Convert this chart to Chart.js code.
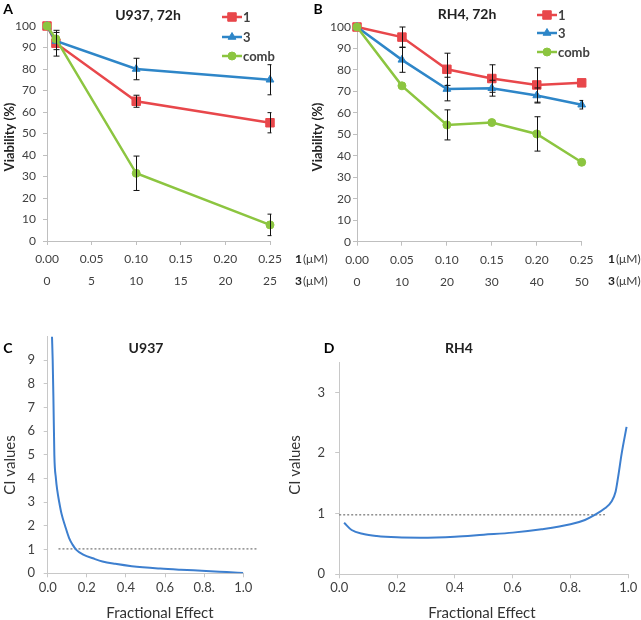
<!DOCTYPE html>
<html><head><meta charset="utf-8">
<script src="https://cdn.jsdelivr.net/npm/chart.js@4/dist/chart.umd.min.js"></script>
<style>
body{margin:0;background:#fff;width:641px;height:620px;position:relative;overflow:hidden}
canvas{position:absolute;display:block}
</style></head><body>
<canvas id="cA" width="335" height="300" style="left:0;top:0"></canvas>
<canvas id="cB" width="341" height="300" style="left:300px;top:0"></canvas>
<canvas id="cC" width="320" height="300" style="left:0;top:320px"></canvas>
<canvas id="cD" width="361" height="300" style="left:280px;top:320px"></canvas>
<script>
// ---------- DATA ----------
const seriesLabels = ['1', '3', 'comb'];
// Panel A: U937, 72h
const doseA = [0, 0.01, 0.10, 0.25];
const a1 = [100, 92, 65, 55];
const a1Err = [0, 6, 2.8, 4.7];
const a3 = [100, 93, 80, 75];
const a3Err = [0, 4, 5, 7];
const aComb = [100, 94, 31.5, 7.5];
const aCombErr = [0, 0, 8, 5];
const xTicksA = ['0.00', '0.05', '0.10', '0.15', '0.20', '0.25'];
const x2TicksA = ['0', '5', '10', '15', '20', '25'];
// Panel B: RH4, 72h
const doseB = [0, 0.05, 0.10, 0.15, 0.20, 0.25];
const b1 = [100, 95.3, 80.3, 76, 73, 74];
const b1Err = [0, 4.7, 7.5, 6.4, 8, 0];
const b3 = [100, 84.7, 71.1, 71.5, 68.1, 63.8];
const b3Err = [0, 5.8, 5.5, 3.7, 3.5, 2];
const bComb = [100, 72.6, 54.4, 55.5, 50.2, 37];
const bCombErr = [0, 0, 7, 0, 8, 0];
const xTicksB = ['0.00', '0.05', '0.10', '0.15', '0.20', '0.25'];
const x2TicksB = ['0', '10', '20', '30', '40', '50'];
// Panel C: U937 CI
const faC = [0.022, 0.0255, 0.029, 0.034, 0.042, 0.049, 0.059, 0.071, 0.089, 0.109, 0.128, 0.145, 0.179, 0.242, 0.28, 0.345, 0.43, 0.575, 0.68, 0.81, 0.915, 1.0];
const ciC = [10, 9, 7.5, 5, 4, 3.5, 3, 2.5, 2, 1.5, 1.2, 1.0, 0.8, 0.6, 0.5, 0.4, 0.3, 0.2, 0.15, 0.1, 0.05, 0.01];
const refCx = [0.055, 1.077];
const refCy = [1.03, 1.03];
// Panel D: RH4 CI
const faD = [0.017, 0.043, 0.084, 0.13, 0.2, 0.28, 0.4, 0.5, 0.6, 0.7, 0.8, 0.85, 0.884, 0.919, 0.942, 0.956, 0.965, 0.977, 0.994];
const ciD = [0.85, 0.73, 0.665, 0.632, 0.61, 0.604, 0.62, 0.654, 0.687, 0.742, 0.824, 0.896, 0.978, 1.088, 1.2, 1.36, 1.61, 1.99, 2.43];
const refDx = [0.0, 0.919];
const refDy = [0.98, 0.98];
const xTicksCD = ['0.0', '0.2', '0.4', '0.6', '0.8.', '1.0'];

// ---------- STYLE ----------
const F = 'Lato';
Chart.defaults.font.family = F;
const RED = '#e8474b', BLUE = '#2e86c8', GREEN = '#8cc540', CURVE = '#3d7fcf';
const AX = '#bfbfbf', TXT = '#404040';

const pts = (xs, ys) => xs.map((x, i) => ({x: x, y: ys[i]}));

// ---------- PLUGINS ----------
const textPlugin = {
  id: 'texts',
  afterDraw(chart, args, opts) {
    const ctx = chart.ctx;
    (opts.items || []).forEach(it => {
      ctx.save();
      ctx.font = it.font; ctx.fillStyle = it.color || '#222';
      ctx.textAlign = it.align || 'center'; ctx.textBaseline = 'middle';
      ctx.translate(it.x - opts.ox, it.y - opts.oy);
      if (it.rot) ctx.rotate(it.rot);
      ctx.fillText(it.text, 0, 0);
      ctx.restore();
    });
  }
};
function marker(ctx, style, x, y, r, color) {
  ctx.save();
  ctx.fillStyle = color; ctx.strokeStyle = color; ctx.lineWidth = 1;
  ctx.beginPath();
  if (style === 'rect') { const s = r * Math.SQRT1_2; ctx.rect(x - s, y - s, 2 * s, 2 * s); }
  else if (style === 'triangle') { ctx.moveTo(x, y - r); ctx.lineTo(x + r * 0.866, y + r * 0.5); ctx.lineTo(x - r * 0.866, y + r * 0.5); ctx.closePath(); }
  else { ctx.arc(x, y, r, 0, Math.PI * 2); }
  ctx.fill(); ctx.stroke();
  ctx.restore();
}
const legendPlugin = {
  id: 'miniLegend',
  afterDraw(chart, args, opts) {
    if (!opts.rows) return;
    const ctx = chart.ctx;
    chart.data.datasets.forEach((ds, i) => {
      const y = opts.rows[i] - opts.oy;
      const x0 = opts.x0 - opts.ox, x1 = opts.x1 - opts.ox;
      ctx.save();
      ctx.strokeStyle = ds.borderColor; ctx.lineWidth = ds.borderWidth;
      ctx.beginPath(); ctx.moveTo(x0, y); ctx.lineTo(x1, y); ctx.stroke();
      marker(ctx, ds.pointStyle, (x0 + x1) / 2, y, ds.pointRadius, ds.borderColor);
      ctx.font = 'bold 13px ' + F; ctx.fillStyle = TXT; ctx.textAlign = 'left'; ctx.textBaseline = 'middle';
      ctx.fillText(ds.label, x1 + 1, y + 1);
      ctx.restore();
    });
  }
};
const errPlugin = {
  id: 'errbars',
  afterDatasetsDraw(chart) {
    const ctx = chart.ctx, xs = chart.scales.x, ys = chart.scales.y, ca = chart.chartArea;
    ctx.save();
    ctx.beginPath(); ctx.rect(ca.left - 10, 0, ca.right - ca.left + 11.5, chart.height); ctx.clip();
    ctx.strokeStyle = '#111'; ctx.lineWidth = 1;
    chart.data.datasets.forEach(ds => {
      if (!ds.errors) return;
      ds.data.forEach((p, i) => {
        const e = ds.errors[i];
        if (!e) return;
        const x = Math.round(xs.getPixelForValue(p.x)) + 0.5;
        const yt = ys.getPixelForValue(p.y + e), yb = ys.getPixelForValue(p.y - e);
        ctx.beginPath();
        ctx.moveTo(x, yt); ctx.lineTo(x, yb);
        ctx.moveTo(x - 3, yt); ctx.lineTo(x + 3, yt);
        ctx.moveTo(x - 3, yb); ctx.lineTo(x + 3, yb);
        ctx.stroke();
      });
    });
    ctx.restore();
  }
};

function dsLine(label, xs, ys, errs, color, style, r, order) {
  return {label: label, data: pts(xs, ys), errors: errs, borderColor: color, backgroundColor: color,
    borderWidth: 2.5, pointStyle: style, pointRadius: r, pointHoverRadius: r, pointBorderWidth: 1,
    tension: 0, clip: false, order: order};
}

function viabilityChart(id, doses, s1, e1, s3, e3, sc, ec, xT, x2T, x2max, lay) {
  return new Chart(document.getElementById(id), {
    type: 'line',
    data: {datasets: [
      dsLine(seriesLabels[0], doses, s1, e1, RED, 'rect', 6, 2),
      dsLine(seriesLabels[1], doses, s3, e3, BLUE, 'triangle', 4.5, 1),
      dsLine(seriesLabels[2], doses, sc, ec, GREEN, 'circle', 4, 0)
    ]},
    options: {
      responsive: false, animation: false, devicePixelRatio: 1,
      layout: {padding: lay.padding},
      plugins: {legend: {display: false}, tooltip: {enabled: false},
        texts: lay.texts, miniLegend: lay.legend},
      scales: {
        x: {type: 'linear', min: 0, max: 0.25, position: 'bottom', weight: 0,
          afterBuildTicks: s => { s.ticks = s.ticks.filter((t, i) => i < xT.length); },
          ticks: {stepSize: 0.05, padding: 7, color: TXT, font: {size: 12}, autoSkip: false, maxRotation: 0,
            callback: (v, i) => xT[i]},
          grid: {drawOnChartArea: false, drawTicks: true, tickLength: 4, color: AX},
          border: {display: true, color: AX, width: 1},
          afterFit: s => { s.height = 25; }},
        x2: {type: 'linear', min: 0, max: x2max, position: 'bottom', weight: 1,
          ticks: {stepSize: x2max / 5, padding: 8, color: TXT, font: {size: 12}, autoSkip: false, maxRotation: 0,
            callback: (v, i) => x2T[i]},
          grid: {display: false, drawTicks: false},
          border: {display: false},
          afterFit: s => { s.height = 22; }},
        y: {type: 'linear', min: 0, max: 100,
          ticks: {stepSize: 10, padding: lay.yPad, color: TXT, font: {size: 12}},
          grid: {drawOnChartArea: false, drawTicks: true, tickLength: 4, color: AX},
          border: {display: true, color: AX, width: 1},
          afterFit: s => { s.width = lay.yW; }}
      }
    },
    plugins: [errPlugin, legendPlugin, textPlugin]
  });
}

function ciChart(id, fa, ci, rx, ry, ymax, lay) {
  return new Chart(document.getElementById(id), {
    type: 'line',
    data: {datasets: [
      {label: 'CI', data: pts(fa, ci), borderColor: CURVE, borderWidth: 2, pointRadius: 0,
        cubicInterpolationMode: 'monotone', clip: lay.clipCurve},
      {label: 'ref', data: pts(rx, ry), borderColor: '#555', borderWidth: 1, borderDash: [2, 2],
        pointRadius: 0, clip: false}
    ]},
    options: {
      responsive: false, animation: false, devicePixelRatio: 1,
      layout: {padding: lay.padding},
      plugins: {legend: {display: false}, tooltip: {enabled: false}, texts: lay.texts},
      scales: {
        x: {type: 'linear', min: 0, max: 1,
          ticks: {stepSize: 0.2, padding: lay.xPad, color: TXT, font: {size: 13}, autoSkip: false, maxRotation: 0,
            callback: (v, i) => xTicksCD[i]},
          grid: {drawOnChartArea: false, drawTicks: true, tickLength: 4, color: '#c8c8c8'},
          border: {display: true, color: '#c8c8c8', width: 1},
          afterFit: s => { s.height = 25; }},
        y: {type: 'linear', min: 0, max: ymax,
          afterBuildTicks: s => { s.ticks = s.ticks.filter(t => Number.isInteger(t.value) && t.value < ymax); },
          ticks: {stepSize: 1, padding: lay.yPad, color: TXT, font: {size: 13}},
          grid: {drawOnChartArea: false, drawTicks: true, tickLength: 4, color: '#c8c8c8'},
          border: {display: true, color: '#c8c8c8', width: 1},
          afterFit: s => { s.width = lay.yW; }}
      }
    },
    plugins: [textPlugin]
  });
}

const B14 = 'bold 14px ' + F, B13 = 'bold 13px ' + F, B12 = 'bold 12px ' + F, N12 = '12px ' + F, N15 = '15px ' + F;
const ROT = -Math.PI / 2;

viabilityChart('cA', doseA, a1, a1Err, a3, a3Err, aComb, aCombErr, xTicksA, x2TicksA, 25, {
  padding: {left: 0, right: 65, top: 26, bottom: 12}, yW: 47, yPad: 7,
  legend: {ox: 0, oy: 0, x0: 222, x1: 242, rows: [17, 37, 56]},
  texts: {ox: 0, oy: 0, items: [
    {text: 'A', x: 8, y: 9, font: B14, color: '#000'},
    {text: 'U937, 72h', x: 148, y: 15, font: B14, color: '#222'},
    {text: 'Viability (%)', x: 10, y: 137, font: B13, color: '#222', rot: ROT},
    {text: '1', x: 295, y: 259, font: B12, color: '#222', align: 'left'},
    {text: '(μM)', x: 303, y: 259, font: N12, color: TXT, align: 'left'},
    {text: '3', x: 295, y: 281, font: B12, color: '#222', align: 'left'},
    {text: '(μM)', x: 303, y: 281, font: N12, color: TXT, align: 'left'}
  ]}
});
viabilityChart('cB', doseB, b1, b1Err, b3, b3Err, bComb, bCombErr, xTicksB, x2TicksB, 50, {
  padding: {left: 0, right: 59.3, top: 27, bottom: 11.3}, yW: 57, yPad: 2,
  legend: {ox: 300, oy: 0, x0: 537, x1: 557, rows: [15, 33, 52]},
  texts: {ox: 300, oy: 0, items: [
    {text: 'B', x: 318, y: 9, font: B14, color: '#000'},
    {text: 'RH4, 72h', x: 467, y: 14, font: B14, color: '#222'},
    {text: 'Viability (%)', x: 318, y: 137, font: B13, color: '#222', rot: ROT},
    {text: '1', x: 608, y: 259, font: B12, color: '#222', align: 'left'},
    {text: '(μM)', x: 616, y: 259, font: N12, color: TXT, align: 'left'},
    {text: '3', x: 608, y: 281, font: B12, color: '#222', align: 'left'},
    {text: '(μM)', x: 616, y: 281, font: N12, color: TXT, align: 'left'}
  ]}
});
ciChart('cC', faC, ciC, refCx, refCy, 10, {
  padding: {left: 0, right: 76.7, top: 10.7, bottom: 21.7}, yW: 47.7, yPad: 8.7, xPad: 3, clipCurve: true,
  texts: {ox: 0, oy: 320, items: [
    {text: 'C', x: 8, y: 348, font: B14, color: '#000'},
    {text: 'U937', x: 146, y: 348, font: B14, color: '#222'},
    {text: 'CI values', x: 10, y: 465, font: N15, color: '#333', rot: ROT},
    {text: 'Fractional Effect', x: 160, y: 613, font: N15, color: '#333'}
  ]}
});
ciChart('cD', faD, ciD, refDx, refDy, 3.5, {
  padding: {left: 0, right: 12.7, top: 42, bottom: 20.7}, yW: 59.2, yPad: 10.2, xPad: 2, clipCurve: false,
  texts: {ox: 280, oy: 320, items: [
    {text: 'D', x: 329, y: 348, font: B14, color: '#000'},
    {text: 'RH4', x: 459, y: 348, font: B14, color: '#222'},
    {text: 'CI values', x: 295, y: 465, font: N15, color: '#333', rot: ROT},
    {text: 'Fractional Effect', x: 482, y: 613, font: N15, color: '#333'}
  ]}
});
</script>
</body></html>
